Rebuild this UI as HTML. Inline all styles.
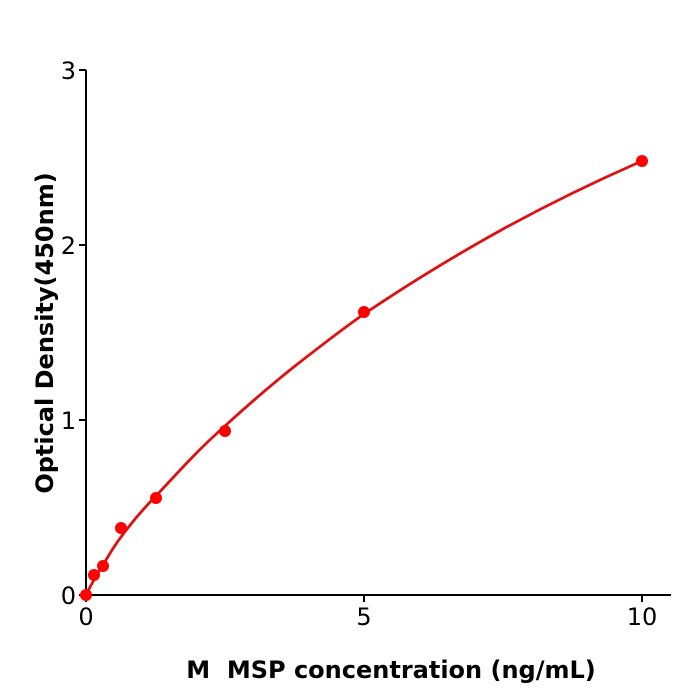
<!DOCTYPE html>
<html><head><meta charset="utf-8"><style>
html,body{margin:0;padding:0;background:#fff;}
svg{display:block;font-family:"DejaVu Sans","Liberation Sans",sans-serif;}
</style></head><body>
<svg width="700" height="700" viewBox="0 0 700 700">
<rect width="700" height="700" fill="#fff"/>
<g stroke="#000" stroke-width="2" fill="none">
<line x1="86" y1="70" x2="86" y2="596"/>
<line x1="85" y1="595" x2="671" y2="595"/>
<line x1="79" y1="595" x2="86" y2="595"/>
<line x1="79" y1="420" x2="86" y2="420"/>
<line x1="79" y1="245" x2="86" y2="245"/>
<line x1="79" y1="70" x2="86" y2="70"/>
<line x1="86" y1="595" x2="86" y2="602"/>
<line x1="364" y1="595" x2="364" y2="602"/>
<line x1="642" y1="595" x2="642" y2="602"/>
</g>
<g font-size="24" fill="#000" text-anchor="end">
<text x="76" y="604">0</text>
<text x="76" y="429">1</text>
<text x="76" y="254">2</text>
<text x="76" y="79">3</text>
</g>
<g font-size="24" fill="#000" text-anchor="middle">
<text x="86" y="625">0</text>
<text x="364" y="625">5</text>
<text x="642" y="625">10</text>
</g>
<text x="391" y="678" font-size="24" font-weight="bold" text-anchor="middle">M&#160; MSP concentration (ng/mL)</text>
<text transform="translate(53,333) rotate(-90)" font-size="24" font-weight="bold" text-anchor="middle">Optical Density(450nm)</text>
<path d="M86,595 C92,583 97,574 103,565 C109,555 114,546 121,537 C132,522 143,509 156,496 C180,470 200,448 225,426 C248,405 271,385 295,366 C318,348 341,330 364,314 C410,283 456,255 503,229 C549,204 596,181 642,161" fill="none" stroke="#e01010" stroke-width="2.8" stroke-linejoin="round"/>
<g fill="#f00">
<circle cx="86" cy="595" r="6"/>
<circle cx="94" cy="575" r="6"/>
<circle cx="103" cy="566" r="6"/>
<circle cx="121" cy="528" r="6"/>
<circle cx="156" cy="498" r="6"/>
<circle cx="225" cy="431" r="6"/>
<circle cx="364" cy="312" r="6"/>
<circle cx="642" cy="161" r="6"/>
</g>
</svg>
</body></html>
